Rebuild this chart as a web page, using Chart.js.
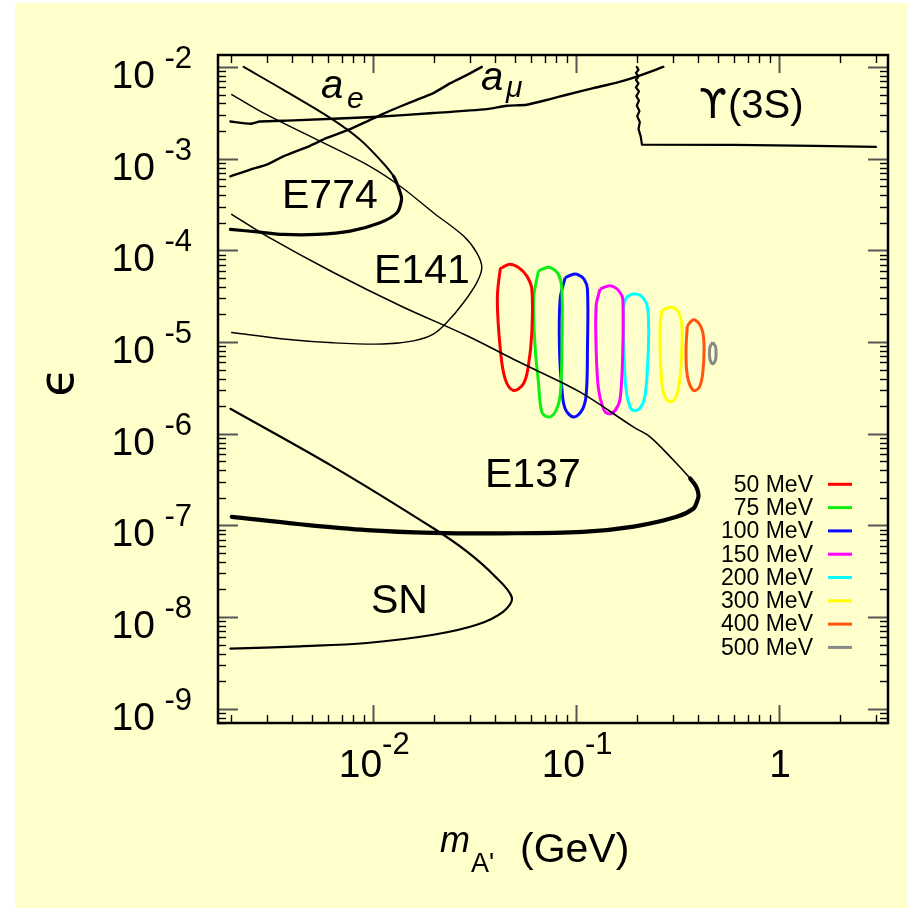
<!DOCTYPE html>
<html><head><meta charset="utf-8">
<script src="https://cdn.jsdelivr.net/npm/chart.js@4.4.0/dist/chart.umd.min.js"></script>
<style>html,body{margin:0;padding:0;background:#fff;overflow:hidden}</style>
</head><body>
<canvas id="c" width="907" height="908" style="display:block;width:907px;height:908px"></canvas>
<script>
// ---------- data (x = m_A' in GeV, y = epsilon) ----------
const aeLine = [[1.98e-3,2.54e-3],[2.48e-3,2.40e-3],[2.77e-3,2.54e-3],[4.05e-3,2.61e-3],[0.01,2.84e-3],[0.0198,3.14e-3],[0.0363,3.47e-3],[0.0456,3.77e-3],[0.0571,3.87e-3],[0.0744,4.46e-3],[0.0899,4.97e-3],[0.1216,5.87e-3],[0.1585,6.75e-3],[0.199,7.85e-3],[0.269,1.0e-2]];
const amuLine = [[1.98e-3,6.42e-4],[2.48e-3,7.6e-4],[2.99e-3,8.6e-4],[3.61e-3,1.06e-3],[4.89e-3,1.38e-3],[5.91e-3,1.68e-3],[7.7e-3,2.10e-3],[9.31e-3,2.54e-3],[0.0112,3.08e-3],[0.0136,3.70e-3],[0.0164,4.38e-3],[0.0198,5.18e-3],[0.024,6.65e-3],[0.029,8.18e-3],[0.0343,1.0e-2]];
const upsilonLine = [[0.199,1.0e-2],[0.203,9.3e-3],[0.197,8.6e-3],[0.203,7.9e-3],[0.197,7.2e-3],[0.203,6.6e-3],[0.197,6.0e-3],[0.204,5.4e-3],[0.198,4.8e-3],[0.204,4.3e-3],[0.199,3.8e-3],[0.205,3.3e-3],[0.200,2.9e-3],[0.206,2.5e-3],[0.203,2.1e-3],[0.208,1.75e-3],[0.211,1.42e-3],[0.6,1.41e-3],[1.5,1.38e-3],[3.0,1.34e-3]];
const e774 = [[2.30e-3,1.0e-2],[3.61e-3,5.62e-3],[6.35e-3,2.65e-3],[8.63e-3,1.61e-3],[0.0108,9.75e-4],[0.0126,6.42e-4],[0.0136,4.24e-4],[0.0138,3.58e-4],[0.0131,2.57e-4],[0.0108,2.0e-4],[7.7e-3,1.62e-4],[5.28e-3,1.49e-4],[3.61e-3,1.49e-4],[2.77e-3,1.58e-4],[1.98e-3,1.69e-4]];
const e141 = [[2.01e-3,5.0e-3],[2.99e-3,3.01e-3],[5.28e-3,1.61e-3],[9.31e-3,8.6e-4],[0.0136,5.0e-4],[0.0198,2.57e-4],[0.0279,1.43e-4],[0.0324,9.4e-5],[0.0343,6.5e-5],[0.0324,4.45e-5],[0.0279,2.7e-5],[0.0231,1.64e-5],[0.0198,1.22e-5],[0.0158,1.03e-5],[0.0112,9.5e-6],[6.37e-3,9.8e-6],[3.61e-3,1.08e-5],[2.01e-3,1.27e-5]];
const e137 = [[2.01e-3,2.47e-4],[2.99e-3,1.43e-4],[6.37e-3,5.74e-5],[0.0136,2.49e-5],[0.029,1.17e-5],[0.0491,6.5e-6],[0.0593,5.31e-6],[0.1047,2.84e-6],[0.192,1.18e-6],[0.232,9.2e-7],[0.302,5.13e-7],[0.365,3.24e-7],[0.390,2.66e-7],[0.401,2.13e-7],[0.394,1.82e-7],[0.379,1.53e-7],[0.313,1.24e-7],[0.192,9.7e-8],[0.108,8.5e-8],[0.0423,8.2e-8],[0.0198,8.3e-8],[9.31e-3,8.9e-8],[4.37e-3,1.03e-7],[2.01e-3,1.24e-7]];
const snCurve = [[1.98e-3,1.87e-6],[6.37e-3,4.35e-7],[0.0198,9.3e-8],[0.029,5.18e-8],[0.0392,2.88e-8],[0.0482,1.64e-8],[0.0438,1.15e-8],[0.0324,8.25e-9],[0.0198,6.42e-9],[9.31e-3,5.22e-9],[4.37e-3,4.8e-9],[1.98e-3,4.53e-9]];

const c50  = [[0.0431,6.49e-5],[0.0473,7.05e-5],[0.052,6.49e-5],[0.0571,5.26e-5],[0.0605,3.77e-5],[0.0605,1.27e-5],[0.0582,5.53e-6],[0.055,3.5e-6],[0.0491,2.96e-6],[0.0447,3.96e-6],[0.0423,8.4e-6],[0.0409,2.94e-5],[0.0423,6.22e-5],[0.0431,6.49e-5]];
const c75  = [[0.0652,5.96e-5],[0.0717,6.49e-5],[0.0759,6.37e-5],[0.0818,5.48e-5],[0.0851,3.77e-5],[0.0851,8.4e-6],[0.0834,2.61e-6],[0.0788,1.72e-6],[0.073,1.52e-6],[0.0678,1.72e-6],[0.0652,3.65e-6],[0.0629,8.4e-6],[0.0617,2.94e-5],[0.0652,5.96e-5]];
const c100 = [[0.0883,5.05e-5],[0.097,5.48e-5],[0.1026,5.4e-5],[0.1095,4.84e-5],[0.1137,3.77e-5],[0.1137,8.4e-6],[0.112,2.61e-6],[0.1067,1.79e-6],[0.097,1.52e-6],[0.0883,1.87e-6],[0.0851,3.09e-6],[0.0828,8.4e-6],[0.0834,2.94e-5],[0.0883,5.05e-5]];
const c150 = [[0.131,3.77e-5],[0.144,4.09e-5],[0.1555,3.93e-5],[0.1647,3.47e-5],[0.1698,2.94e-5],[0.1698,8.4e-6],[0.1647,2.4e-6],[0.1555,1.79e-6],[0.144,1.65e-6],[0.1363,1.87e-6],[0.1288,3.09e-6],[0.1255,8.4e-6],[0.1255,2.48e-5],[0.131,3.77e-5]];
const c200 = [[0.176,3.06e-5],[0.191,3.33e-5],[0.2066,3.24e-5],[0.2213,2.7e-5],[0.227,1.93e-5],[0.227,8.4e-6],[0.2187,2.61e-6],[0.2066,1.9e-6],[0.193,1.79e-6],[0.1845,1.95e-6],[0.176,3.09e-6],[0.172,8.4e-6],[0.171,2.28e-5],[0.176,3.06e-5]];
const c300 = [[0.264,2.19e-5],[0.285,2.38e-5],[0.307,2.32e-5],[0.323,2.01e-5],[0.332,1.5e-5],[0.332,8.4e-6],[0.323,3.65e-6],[0.307,2.4e-6],[0.287,2.25e-6],[0.269,2.84e-6],[0.261,5.53e-6],[0.259,1.5e-5],[0.264,2.19e-5]];
const c400 = [[0.353,1.5e-5],[0.378,1.75e-5],[0.405,1.57e-5],[0.421,1.27e-5],[0.427,8.4e-6],[0.421,4.68e-6],[0.405,3.22e-6],[0.378,2.96e-6],[0.353,4.3e-6],[0.348,8.4e-6],[0.353,1.5e-5]];
const c500 = [[0.471,9.9e-6],[0.486,8.9e-6],[0.489,7.6e-6],[0.486,6.4e-6],[0.471,5.8e-6],[0.457,6.4e-6],[0.454,7.6e-6],[0.457,8.9e-6],[0.471,9.9e-6]];

const massLabels = ["50 MeV","75 MeV","100 MeV","150 MeV","200 MeV","300 MeV","400 MeV","500 MeV"];
const massContours = [c50,c75,c100,c150,c200,c300,c400,c500];

const xTickValues = [0.01, 0.1, 1];
const xTickLabels = [["10","-2"],["10","-1"],["1",""]];
const yTickValues = [1e-2,1e-3,1e-4,1e-5,1e-6,1e-7,1e-8,1e-9];
const yTickLabels = [["10","-2"],["10","-3"],["10","-4"],["10","-5"],["10","-6"],["10","-7"],["10","-8"],["10","-9"]];

// ---------- styles ----------
const massColors = ["#ff0000","#11ee11","#0a0aff","#ff00ff","#00ffff","#ffff00","#ff5511","#888888"];
const FONT = '"Liberation Sans", Arial, Helvetica, "DejaVu Sans", sans-serif';

const toPts = arr => arr.map(p => ({x: p[0], y: p[1]}));
function blackDs(label, arr, w, tension, thickFrom, thickW) {
  const ds = {label, data: toPts(arr), showLine: true, borderColor: '#000', borderWidth: w,
          pointRadius: 0, tension: tension, fill: false, borderJoinStyle: 'round', borderCapStyle: 'round'};
  if (thickFrom !== undefined) {
    ds.segment = {borderWidth: c => (c.p0DataIndex >= thickFrom ? thickW : w)};
  }
  return ds;
}
const datasets = [
  blackDs('a_e', aeLine, 2.4, 0.2),
  blackDs('a_mu', amuLine, 2.4, 0.2),
  blackDs('Upsilon(3S)', upsilonLine, 2.2, 0),
  blackDs('E774', e774, 2.0, 0.35, 5, 3.2),
  blackDs('E141', e141, 1.4, 0.35),
  blackDs('E137', e137, 1.6, 0.35, 11, 4.2),
  blackDs('SN', snCurve, 2.2, 0.35)
];
massContours.forEach((c, i) => {
  datasets.push({label: massLabels[i], data: toPts(c), showLine: true, borderColor: massColors[i],
    borderWidth: 3, pointRadius: 0, tension: 0.35, fill: false, borderJoinStyle: 'round'});
});

// ---------- decorations: background, frame, inward ticks, labels, legend ----------
const decor = {
  id: 'decor',
  beforeDraw(chart) {
    const ctx = chart.ctx;
    ctx.save();
    ctx.fillStyle = '#ffffff'; ctx.fillRect(0, 0, chart.width, chart.height);
    ctx.fillStyle = '#ffffcc'; ctx.fillRect(15, 3, chart.width - 15, chart.height - 3);
    ctx.restore();
  },
  afterDatasetsDraw(chart) {
    const {ctx, chartArea: a, scales: {x, y}} = chart;
    ctx.save();
    const seg = (x1, y1, x2, y2) => { ctx.beginPath(); ctx.moveTo(x1, y1); ctx.lineTo(x2, y2); ctx.stroke(); };
    // ticks
    for (let d = -3; d <= 0; d++) for (let k = 1; k <= 9; k++) {
      const v = k * Math.pow(10, d);
      if (v < x.min || v > x.max) continue;
      const px = Math.round(x.getPixelForValue(v)) + 0.5;
      const major = k === 1;
      ctx.strokeStyle = major ? '#555' : '#000';
      ctx.lineWidth = major ? 2 : 1.4;
      const len = major ? 18 : 8;
      seg(px, a.bottom, px, a.bottom - len);
      seg(px, a.top, px, a.top + len);
    }
    for (let d = -10; d <= -2; d++) for (let k = 1; k <= 9; k++) {
      const v = k * Math.pow(10, d);
      if (v < y.min || v > y.max) continue;
      const py = Math.round(y.getPixelForValue(v)) + 0.5;
      const major = k === 1;
      ctx.strokeStyle = major ? '#555' : '#000';
      ctx.lineWidth = major ? 2 : 1.4;
      const len = major ? 20 : 8;
      seg(a.left, py, a.left + len, py);
      seg(a.right, py, a.right - len, py);
    }
    // frame
    ctx.strokeStyle = '#000'; ctx.lineWidth = 2.5;
    ctx.strokeRect(a.left, a.top, a.right - a.left, a.bottom - a.top);

    ctx.fillStyle = '#000';
    ctx.textBaseline = 'alphabetic';
    // y tick labels
    yTickValues.forEach((v, i) => {
      const py = y.getPixelForValue(v);
      const [b, e] = yTickLabels[i];
      ctx.textAlign = 'right';
      ctx.font = '31px ' + FONT;
      ctx.fillText(e, 192, py + 1);
      ctx.font = '39px ' + FONT;
      ctx.fillText(b, 155, py + 21);
    });
    // x tick labels
    xTickValues.forEach((v, i) => {
      const px = x.getPixelForValue(v);
      const [b, e] = xTickLabels[i];
      ctx.textAlign = 'left';
      ctx.font = '39px ' + FONT;
      const wb = ctx.measureText(b).width;
      ctx.font = '31px ' + FONT;
      const we = e ? ctx.measureText(e).width : 0;
      const start = px - (wb + we) / 2 + 1;
      ctx.font = '39px ' + FONT;
      ctx.fillText(b, start, 777);
      if (e) { ctx.font = '31px ' + FONT; ctx.fillText(e, start + wb, 754); }
    });
    // axis titles
    ctx.textAlign = 'left';
    ctx.font = 'italic 36px ' + FONT;
    ctx.fillText('m', 440, 852);
    ctx.font = '27px ' + FONT;
    ctx.fillText("A'", 471, 872);
    ctx.font = '41px ' + FONT;
    ctx.fillText('(GeV)', 520, 862);
    ctx.save();
    ctx.translate(73, 382);
    ctx.rotate(-Math.PI / 2);
    ctx.textAlign = 'center';
    ctx.font = '48px "DejaVu Sans", "Noto Sans", sans-serif';
    ctx.fillText('\u03F5', 0, 0);
    ctx.restore();

    // region labels
    ctx.textAlign = 'left';
    ctx.font = '41px ' + FONT;
    ctx.fillText('E774', 282, 208);
    ctx.fillText('E141', 374, 283);
    ctx.fillText('E137', 485, 487);
    ctx.fillText('SN', 371, 613);
    ctx.font = '40px "DejaVu Sans", sans-serif';
    ctx.fillText('\u03D2', 699, 118);
    const wu = ctx.measureText('\u03D2').width;
    ctx.font = '40px ' + FONT;
    ctx.fillText('(3S)', 699 + wu + 1, 118);
    ctx.font = 'italic 40px ' + FONT;
    ctx.fillText('a', 321, 98);
    ctx.fillText('a', 481, 90);
    ctx.font = 'italic 30px ' + FONT;
    ctx.fillText('e', 347, 108);
    ctx.fillText('\u03BC', 506, 97);

    // legend
    ctx.font = '23px ' + FONT;
    massLabels.forEach((lab, i) => {
      const cy = 484.3 + i * 23.3;
      ctx.textAlign = 'right';
      ctx.textBaseline = 'middle';
      ctx.fillStyle = '#000';
      ctx.fillText(lab, 813, cy + 1);
      ctx.strokeStyle = massColors[i];
      ctx.lineWidth = 3;
      seg(828, cy, 852, cy);
    });
    ctx.restore();
  }
};

new Chart(document.getElementById('c'), {
  type: 'scatter',
  data: {datasets},
  options: {
    responsive: false,
    animation: false,
    devicePixelRatio: 1,
    layout: {padding: {left: 218, right: 19, top: 55, bottom: 185}},
    plugins: {legend: {display: false}, tooltip: {enabled: false}},
    scales: {
      x: {type: 'logarithmic', min: 0.00172, max: 3.44, display: false},
      y: {type: 'logarithmic', min: 7.41e-10, max: 0.01349, display: false}
    }
  },
  plugins: [decor]
});
</script>
</body></html>
